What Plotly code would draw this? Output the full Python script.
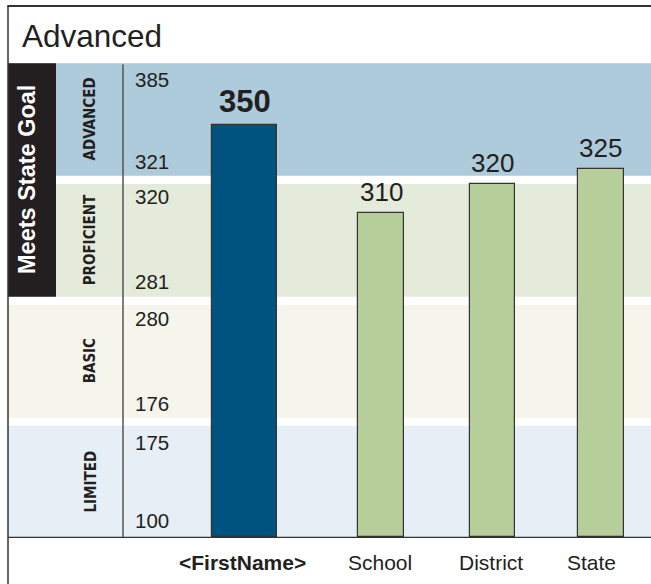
import plotly.graph_objects as go

# ---------------- data ----------------
categories = ["<FirstName>", "School", "District", "State"]
scores = [350, 310, 320, 325]
band_names = ["ADVANCED", "PROFICIENT", "BASIC", "LIMITED"]
band_low = [321, 281, 176, 100]
band_high = [385, 320, 280, 175]
title_text = "Advanced"
goal_text = "Meets State Goal"

# ---------------- layout constants (pixels) ----------------
W, H = 651, 584
BAND_TOP = [63.3, 184.0, 305.0, 425.7]
BAND_BOT = [175.7, 296.7, 417.7, 537.3]
BAND_COLORS = ["#ADCBDB", "#E4EBDA", "#F5F5EC", "#E6EFF5"]
INK = "#231F20"
FONT = "Liberation Sans, Arial, Helvetica, sans-serif"
NARROW = "DejaVu Sans Condensed, Liberation Sans Narrow, Arial Narrow, Liberation Sans, sans-serif"

# x axis: category index -> pixel  (x0 + s*i)
X0_PX, S_PX = 244.5, 118.8
bar_shift_px = [0.0, 17.7, 10.4, 0.0]
bar_width_px = [65, 46, 45, 46]
label_shift_px = [-2.5, 16.7, 8.9, -9.0]
BAR_COLORS = ["#00527F", "#B5CE9A", "#B5CE9A", "#B5CE9A"]
TOP_LABEL_INSET = [16, 13, 13, 17]
BOT_LABEL_INSET = [14, 15, 14, 17]


def px(x):
    return x / W


def py(y):
    return 1 - y / H


def to_axis(v):
    """piecewise scale: score -> axis units (pixels from bottom)"""
    for top, bot, lo, hi in zip(BAND_TOP, BAND_BOT, band_low, band_high):
        if lo <= v <= hi:
            p = top + (hi - v) / (hi - lo) * (bot - top)
            return H - p
    return H - BAND_BOT[-1]


base_val = to_axis(min(band_low))
bar_len = [to_axis(v) - base_val for v in scores]
widths = [w / S_PX for w in bar_width_px]
offsets = [sh / S_PX - w / 2 for sh, w in zip(bar_shift_px, widths)]

fig = go.Figure()
fig.add_trace(go.Bar(
    x=categories, y=bar_len, base=[base_val] * len(scores),
    width=widths, offset=offsets,
    marker=dict(color=BAR_COLORS, line=dict(color="#333333", width=1.2)),
    hoverinfo="skip", showlegend=False,
))

shapes = []
for top, bot, col in zip(BAND_TOP, BAND_BOT, BAND_COLORS):
    shapes.append(dict(type="rect", xref="paper", yref="paper", x0=px(8), x1=1,
                       y0=py(bot), y1=py(top), fillcolor=col, line_width=0, layer="below"))
shapes.append(dict(type="rect", xref="paper", yref="paper", x0=px(8), x1=px(56),
                   y0=py(BAND_BOT[1]), y1=py(BAND_TOP[0]), fillcolor=INK, line_width=0, layer="below"))
shapes.append(dict(type="line", xref="paper", yref="paper", x0=px(123), x1=px(123),
                   y0=py(BAND_BOT[-1]), y1=py(BAND_TOP[0] + 1), line=dict(color="#555555", width=1.5)))
shapes.append(dict(type="line", xref="paper", yref="paper", x0=px(8), x1=px(8),
                   y0=0, y1=py(6), line=dict(color="#333333", width=1.5)))
shapes.append(dict(type="line", xref="paper", yref="paper", x0=px(7.3), x1=1,
                   y0=py(6), y1=py(6), line=dict(color="#333333", width=2)))
shapes.append(dict(type="line", xref="paper", yref="paper", x0=px(8), x1=1,
                   y0=py(BAND_BOT[-1]), y1=py(BAND_BOT[-1]), line=dict(color="#333333", width=1.2)))

ann = []
ann.append(dict(text=title_text, xref="paper", yref="paper", x=px(20), y=py(36),
                xanchor="left", yanchor="middle", showarrow=False,
                font=dict(family=FONT, size=31.5, color=INK)))
ann.append(dict(text=goal_text, xref="paper", yref="paper", x=px(27),
                y=py((BAND_TOP[0] + BAND_BOT[1]) / 2), textangle=-90,
                xanchor="center", yanchor="middle", showarrow=False,
                font=dict(family=FONT, size=23.5, color="white", weight="bold")))
for k, (name, top, bot, lo, hi) in enumerate(zip(band_names, BAND_TOP, BAND_BOT, band_low, band_high)):
    ann.append(dict(text=name, xref="paper", yref="paper", x=px(90), y=py((top + bot) / 2),
                    textangle=-90, xanchor="center", yanchor="middle", showarrow=False,
                    font=dict(family=NARROW, size=15, color=INK, weight="bold")))
    ann.append(dict(text=str(hi), xref="paper", yref="paper", x=px(133), y=py(top + TOP_LABEL_INSET[k]),
                    xanchor="left", yanchor="middle", showarrow=False,
                    font=dict(family=FONT, size=20.5, color=INK)))
    ann.append(dict(text=str(lo), xref="paper", yref="paper", x=px(133), y=py(bot - BOT_LABEL_INSET[k]),
                    xanchor="left", yanchor="middle", showarrow=False,
                    font=dict(family=FONT, size=20.5, color=INK)))
for i, (c, v) in enumerate(zip(categories, scores)):
    first = i == 0
    ann.append(dict(text=str(v), xref="x", yref="y", x=c, y=to_axis(v),
                    xshift=bar_shift_px[i], yshift=4, xanchor="center", yanchor="bottom",
                    showarrow=False,
                    font=dict(family=FONT, size=31 if first else 26, color=INK,
                              weight="bold" if first else "normal")))
    ann.append(dict(text=c.replace("<", "&lt;").replace(">", "&gt;"), xref="x", yref="paper",
                    x=c, y=py(562), xshift=label_shift_px[i], xanchor="center", yanchor="middle",
                    showarrow=False,
                    font=dict(family=FONT, size=21, color=INK,
                              weight="bold" if first else "normal")))

fig.update_layout(
    width=W, height=H, margin=dict(l=0, r=0, t=0, b=0),
    paper_bgcolor="white", plot_bgcolor="rgba(0,0,0,0)",
    shapes=shapes, annotations=ann, showlegend=False,
    xaxis=dict(type="category", range=[-X0_PX / S_PX, (W - X0_PX) / S_PX],
               visible=False, fixedrange=True),
    yaxis=dict(range=[0, H], visible=False, fixedrange=True),
    bargap=0,
)

fig.write_html("out.html", config={"displayModeBar": False},
               post_script="document.body.style.margin='0';document.body.style.overflow='hidden';")
